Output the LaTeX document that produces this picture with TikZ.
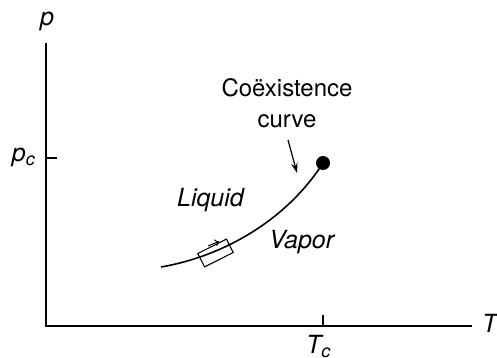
\documentclass[tikz,border=0pt]{standalone}
\usepackage{fontspec}
\setmainfont{TeX Gyre Heros}
\usetikzlibrary{arrows.meta}
\newcommand{\subc}{\raisebox{-4pt}{\fontsize{18}{20}\selectfont c}}
\begin{document}
\begin{tikzpicture}[x=1pt,y=-1pt,
  lbl/.style={font=\fontsize{24}{31}\selectfont, inner sep=0pt},
  ilbl/.style={font=\fontsize{25}{30}\selectfont\itshape, inner sep=0pt},
  axis/.style={line width=1.4pt},
  curvestyle/.style={line width=1.6pt}]
\useasboundingbox (0,0) rectangle (497,358);
% axes
\coordinate (O) at (46,326);
\coordinate (ytop) at (46,43);
\coordinate (xend) at (472,326);
\draw[axis] (ytop) -- (O) -- (xend);
\coordinate (pct) at (46,158);
\coordinate (pce) at (57,158);
\draw[axis] (pct) -- (pce);
\coordinate (tct) at (323,326);
\coordinate (tce) at (323,315);
\draw[axis] (tct) -- (tce);
% labels
\node[ilbl, anchor=base] (p) at (47,26) {p};
\node[ilbl, anchor=base east] (pc) at (35,161) {p\subc};
\node[ilbl, anchor=base west] (T) at (482,332) {T};
\node[ilbl, anchor=base west] (Tc) at (306,353) {T\subc};
\node[lbl, anchor=base] (coex) at (287,97) {Coëxistence};
\node[lbl, anchor=base] (curvelbl) at (287,128) {curve};
\node[ilbl, anchor=base west] (liq) at (177,206) {Liquid};
\node[ilbl, anchor=base west] (vap) at (269,248) {Vapor};
% curve
\coordinate (cs) at (161,267);
\coordinate (ce) at (323,163);
\draw[curvestyle] (cs) .. controls (230,255) and (290,215) .. (ce);
\fill (ce) circle (7);
% arrow
\coordinate (atail) at (288,140);
\coordinate (atip) at (297,173);
\draw[line width=1.2pt, -{Stealth[length=10pt,width=6.5pt]}] (atail) -- (atip);
% box on curve
\node[draw, line width=1.1pt, minimum width=32pt, minimum height=15pt, inner sep=0pt, rotate=26.6] (box) at (215.5,253) {};
\draw[line width=1pt, -{To[length=4pt,width=7pt]}] (box.center) ++(-7.5,-7) -- ++(11,-4.5);
\end{tikzpicture}
\end{document}
